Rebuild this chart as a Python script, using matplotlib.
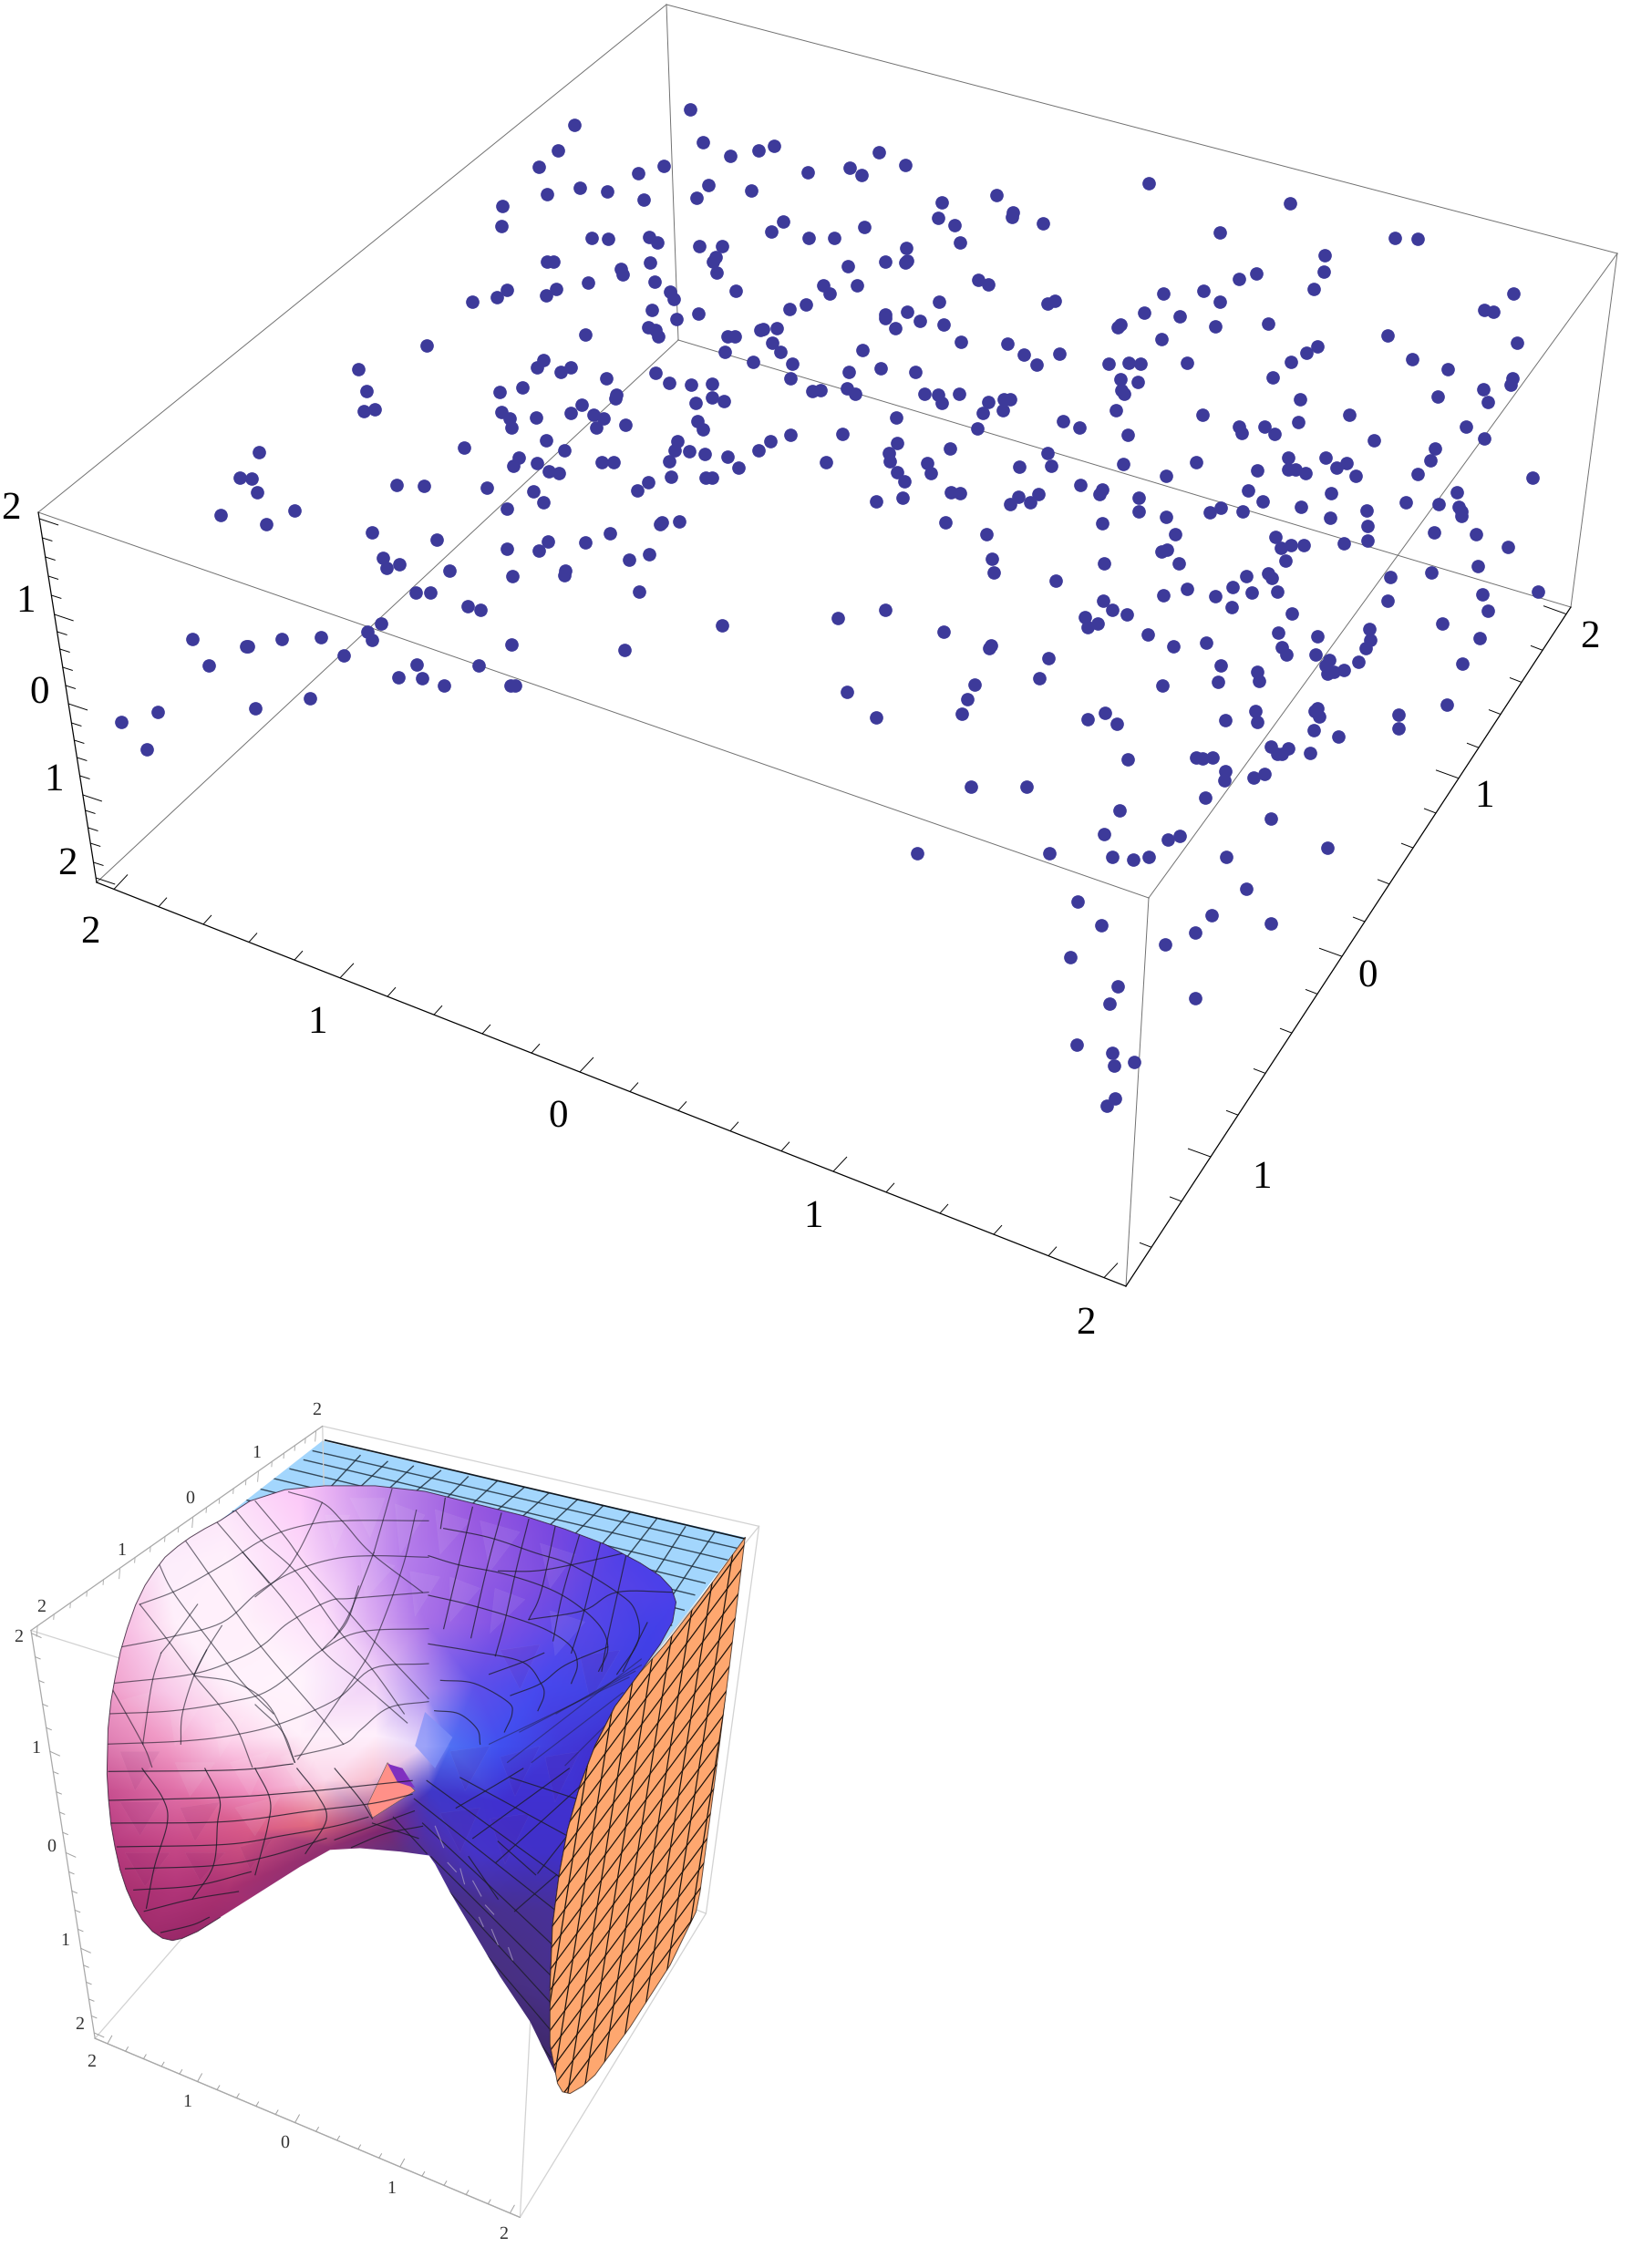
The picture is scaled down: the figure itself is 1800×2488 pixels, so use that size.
import numpy as np
import matplotlib
matplotlib.use("Agg")
import matplotlib.pyplot as plt
from matplotlib.colors import to_rgb
from matplotlib.patches import Polygon
from matplotlib.tri import Triangulation, LinearTriInterpolator

plt.rcParams["text.hinting"] = "no_hinting"
plt.rcParams["text.hinting_factor"] = 1

# read-off crops: left, top, x scale, y scale to reach image pixels
NW = (0, 0, 900 / 1568, 750 / 1568)
NE = (900, 0, 900 / 1568, 750 / 1568)
SW = (0, 750, 900 / 1568, 750 / 1568)
SE = (900, 750, 900 / 1568, 750 / 1568)
LOW = (0, 1520, 860 / 1568, 968 / 1568)
LOW_L = (110, 1580, 1 / 3, 1 / 3)
LOW_R = (470, 1580, 1 / 3, 1 / 3)
LOW_B = (110, 1940, 720 / 1568, 1 / 3)

dots_nw = [(1318,250),(1098,286),(1067,344),(1029,383),(1343,326),(1395,357),(1449,344),(1479,335),(1543,395),(1269,381),
(1220,397),(1108,430),(1160,440),(1046,446),(1230,457),(1331,453),(1354,424),(1436,437),(960,472),(958,518),(1497,509),
(1474,532),(1545,546),(1130,546),(1162,547),(1240,544),(1256,557),(1337,565),(1379,565),(1045,599),(1058,599),(1242,603),
(1367,590),(1362,600),(1370,625),(1187,616),(1190,630),(1123,648),(1251,646),(1406,667),(969,665),(950,682),(903,692),
(1044,678),(1062,663),(1280,668),(1288,685),(1508,709),(1540,699),(1246,710),(1335,720),(1292,731),(1119,767),(1239,750),
(1253,757),(1258,771),(1390,771),(1404,771),(1453,757),(1459,755),(1485,752),(1476,787),(1491,808),(1385,808),(1514,835),
(1439,831),(816,793),(684,846),(1039,826),(1027,842),(1072,853),(1090,843),(1252,855),(1158,868),(1510,868),(1279,879),
(1321,882),(1361,881),(998,889),(955,898),(701,897),(1553,896),(1177,905),(1176,914),(1361,912),(1384,920),(1330,925),
(1112,928),(716,938),(695,943),(958,945),(1091,948),(1135,951),(974,960),(1024,957),(1153,960),(1333,965),(1140,980),
(1196,975),(978,981),(1343,984),(1510,997),(1294,1011),(1044,1010),(1472,1011),(886,1026),(1289,1032),(1079,1032),
(1317,1034),(1449,1033),(1346,1041),(992,1050),(1391,1048),(495,1038),(981,1069),(1027,1062),(1149,1060),(1172,1060),
(1279,1057),(1411,1073),(1048,1081),(1068,1085),(1282,1094),(1348,1095),(1360,1096),(458,1095),(481,1098),(1239,1107),
(492,1129),(757,1113),(810,1115),(930,1119),(1019,1127),(1218,1125),(1039,1152),(969,1166),(563,1171),(422,1181),
(1264,1197),(1298,1196),(1261,1202),(508,1203),(711,1221),(1165,1224),(834,1237),(1047,1241),(1119,1243),(969,1259),
(1029,1263),(1241,1272),(1203,1283),(731,1280),(763,1295),(739,1302),(859,1308),(1081,1308),(1079,1320),(979,1322),
(795,1359),(823,1359),(1221,1357),(894,1391),(918,1398),(1379,1435),(728,1430),(702,1448),(710,1467),(367,1465),
(470,1483),(474,1483),(539,1466),(614,1462),(978,1479),(1194,1491),(656,1504),(399,1526),(797,1524),(914,1527),
(761,1553),(806,1556),(848,1573),(975,1573),(985,1573)]

dots_sw = [(232,88),(302,65),(280,150),(488,57),(592,33)]

dots_ne = [(111,350),(55,385),(79,401),(162,379),(627,421),(337,448),(231,465),(898,467),(368,488),(366,498),(224,500),
(425,512),(256,517),(84,521),(763,534),(27,545),(1097,545),(1141,547),(266,557),(163,569),(964,585),(165,597),(162,603),
(123,601),(52,611),(962,624),(833,628),(800,640),(5,654),(69,655),(18,674),(302,641),(321,653),(942,662),(655,673),
(732,667),(1324,673),(227,691),(433,697),(448,689),(763,691),(1269,710),(1286,714),(618,717),(165,714),(124,722),
(124,730),(687,725),(190,736),(236,745),(573,745),(568,751),(754,749),(855,743),(143,753),(268,785),(652,778),(1083,770),
(358,788),(1331,787),(950,795),(929,809),(80,803),(389,813),(456,812),(413,836),(899,830),(550,835),(588,833),(611,835),
(701,833),(1130,824),(115,845),(1199,846),(54,853),(181,853),(865,865),(574,870),(606,875),(1323,868),(1318,882),(0,895),
(50,891),(575,895),(66,904),(199,904),(225,906),(264,904),(581,904),(1266,893),(1180,909),(916,916),(232,924),(320,923),
(350,916),(362,915),(1276,922),(565,940),(310,948),(349,941),(730,951),(1011,952),(144,958),(464,965),(800,979),(848,979),
(913,968),(1233,978),(495,980),(299,982),(805,994),(868,996),(42,996),(587,998),(1268,1005),(1057,1010),(147,1016),
(248,1028),(1175,1028),(130,1040),(434,1040),(133,1057),(10,1060),(203,1062),(894,1050),(965,1049),(1006,1062),(717,1061),
(1165,1056),(578,1065),(380,1070),(441,1069),(986,1072),(894,1077),(907,1077),(835,1078),(146,1082),(211,1085),(927,1085),
(1022,1092),(661,1092),(1142,1087),(1361,1095),(161,1104),(496,1113),(817,1124),(539,1122),(533,1134),(250,1130),(266,1131),
(417,1134),(378,1140),(975,1131),(1216,1128),(608,1142),(156,1142),(106,1149),(400,1153),(362,1156),(845,1150),(1119,1153),
(1182,1157),(764,1165),(919,1162),(1044,1171),(1219,1162),(1225,1172),(1225,1183),(744,1175),(608,1172),(806,1172),
(661,1185),(974,1187),(239,1197),(539,1200),(1045,1207),(317,1225),(678,1226),(1172,1221),(1252,1225),(869,1231),(1046,1239),
(899,1250),(880,1256),(924,1251),(1000,1247),(662,1260),(651,1264),(1314,1255),(327,1282),(888,1286),(685,1291),(541,1291),
(1257,1299),(331,1312),(1167,1313),(450,1331),(814,1321),(855,1316),(863,1326),(1089,1323),(788,1347),(824,1359),(873,1356),
(700,1351),(655,1365),(755,1367),(1371,1356),(1265,1364),(1084,1378),(540,1377),(557,1398),(585,1409),(785,1392),(124,1399),
(33,1418),(1275,1401),(900,1408),(505,1416),(530,1430),(510,1438),(1188,1431),(236,1448),(875,1450),(625,1455),(949,1460),
(1048,1443),(1050,1467),(1259,1463),(1041,1486),(326,1480),(322,1487),(737,1474),(674,1483),(881,1484),(890,1502),(946,1502),
(435,1510),(972,1513),(965,1526),(1028,1518),(1227,1521),(765,1527),(835,1541),(1000,1537),(968,1545),(980,1540),(419,1555),
(759,1563),(838,1562),(295,1570),(653,1572)]

dots_se = [(51,18),(280,35),(107,77),(270,69),(511,81),(543,67),(566,91),(774,83),(831,63),(834,87),(945,62),(950,56),(953,75),
(1104,71),(1104,102),(1197,48),(942,107),(989,121),(860,144),(893,149),(873,160),(882,162),(936,158),(587,174),(718,170),
(730,172),(749,169),(774,201),(772,222),(828,216),(849,207),(287,236),(394,236),(736,261),(571,291),(860,310),(541,345),
(664,358),(687,350),(968,377),(185,389),(438,388),(558,397),(598,404),(627,397),(775,398),(814,470),(491,500),(748,531),
(537,554),(860,550),(716,571),(658,597),(478,627),(568,695),(716,722),(553,733),(489,827),(558,846),(600,868),(561,877),
(563,951),(547,967)]

# axis tick positions, read along each axis in pixels, every fifth one is long
top_z_ticks = [569,590,611,632,653,674,693,712,732,752,772,793,812,831,851,872,889,908,925,946,963]
top_x_ticks = [125,174,223,273,323,373,425,476,529,583,636,691,744,801,857,914,972,1031,1090,1150,1211]
top_y_ticks = [1263,1296,1328,1358,1388,1417,1445,1472,1497,1524,1550,1575,1600,1622,1646,1669,1692,1718]
top_labels = ["2", "1", "0", "1", "2"]
top_z_label_pos = [(11.5,559),(27.5,661),(43,761),(58.5,857),(73.5,949)]
top_x_label_pos = [(99,1024),(348,1123),(612,1226),(892,1336),(1191,1453)]
top_y_label_pos = [(1384,1293),(1500,1072),(1628,875),(1744,700)]

# lower plot, all in LOW crop coordinates unless stated
low_back_ticks = [75,108,141,174,207,240,270,301,330,357,386,413,439,467,492,517,544,568,590,611,632]
low_z_ticks = [440,482,524,566,608,650,686,722,758,794,830,864,898,932,966,1000,1030,1060,1090,1120,1150]
low_x_ticks = [215,251,287,323,359,395,434,473,512,551,590,632,674,716,758,800,844,888,932,976,1020]
low_back_label_pos = [(83,392),(243,292),(380,200),(513,118),(632,42)]
low_z_label_pos = [(37,445),(72,643),(102,818),(130,985),(158,1135)]
low_x_label_pos = [(182,1200),(374,1272),(570,1345),(782,1425),(1007,1507)]

surface_outline = [(440,240),(500,205),(570,185),(650,178),(750,178),(850,188),(950,210),(1050,232),(1130,255),(1210,282),
(1280,315),(1320,338),(1343,360),(1352,385),(1345,420),(1320,460),(1280,510),(1230,570),(1190,640),(1160,710),(1135,790),(1118,870),
(1105,960),(1100,1070),(1100,1170),(1112,1225),(1060,1130),(1000,1050),(950,975),(900,900),(870,850),(858,835),(800,828),
(720,822),(660,825),(600,855),(520,900),(440,945),(395,970),(365,982),(345,986),(325,982),(305,970),(285,950),(268,925),
(253,895),(240,860),(230,820),(222,780),(217,735),(214,690),(216,610),(222,560),(230,520),(241,472),(255,430),(271,390),(290,355),
(310,328),(330,305),(355,286),(380,270),(410,254)]

wall_outline = [(1490,270),(1460,490),(1430,700),(1400,900),(1392,935),(1340,1030),(1260,1140),(1190,1225),(1165,1245),(1140,1258),
(1125,1255),(1115,1240),(1100,1170),(1100,1070),(1105,960),(1118,870),(1135,790),(1160,710),(1190,640),(1230,570),(1280,510),(1330,460),(1400,380)]

lid_outline = [(645,98),(1490,270),(1300,490),(440,240)]
lid_left = [(650,97),(626,116),(608,132),(580,148),(547,165),(517,183),(487,202),(456,221)]
lid_right = [(1489,272),(1474,289),(1456,310),(1435,332),(1410,351),(1389,372),(1368,399),(1343,426)]
# cross lines of the lid, LOW_R crop
lid_cross = [((130,120),(80,170)),((225,135),(160,195)),((315,155),(250,210)),((400,170),(310,250)),((490,195),(420,260)),
((575,215),(500,290)),((665,235),(590,320)),((750,260),(680,350)),((845,285),(770,400)),((940,305),(850,440)),
((40,100),(-20,150)),((-50,85),(-120,150)),((-135,70),(-210,140)),((-225,50),(-300,130))]

# colours read at spots on the surface
shade_points = [
(450,230,"#fde8fa"),(600,190,"#fcc8f8"),(700,190,"#d8a0f0"),(800,195,"#b880e8"),(950,215,"#9858e0"),(1100,250,"#7a48e0"),
(1250,300,"#5040e8"),(1350,380,"#4a40ea"),(330,320,"#fdeefc"),(450,300,"#fff0fc"),(600,300,"#fcd8fa"),(700,300,"#e0b0f4"),
(800,300,"#b880ec"),(950,310,"#9a60e4"),(1100,330,"#7a4ce0"),(1200,340,"#5a44e6"),(255,430,"#f8c0e4"),(350,420,"#fff0fb"),
(500,420,"#fff0fb"),(650,420,"#fde0fb"),(750,420,"#d8a8f2"),(850,420,"#a870e8"),(1000,420,"#8050e4"),(1150,420,"#5a48e8"),
(1300,440,"#4240e8"),(225,540,"#f0a0cc"),(330,540,"#f8c8e8"),(450,520,"#fff2fc"),(600,520,"#fff4fd"),(750,520,"#f0d0f8"),
(850,540,"#b090f0"),(950,530,"#6050ea"),(1080,530,"#4848ee"),(1230,550,"#4040e0"),(215,630,"#e080b4"),(330,640,"#f098c4"),
(450,630,"#fdd0ea"),(600,620,"#fff0fa"),(750,620,"#fff0fc"),(850,640,"#e0d0fa"),(900,640,"#5070f4"),(1000,640,"#4050f0"),
(1130,640,"#4238d8"),(1190,650,"#4030d0"),(215,720,"#c85090"),(350,720,"#e070a8"),(500,720,"#f090c0"),(650,700,"#fcd8ea"),
(740,700,"#f8c0d0"),(860,720,"#4038c8"),(1000,740,"#4030d0"),(1150,740,"#4030d0"),(225,810,"#b83c80"),(350,810,"#c84a88"),
(500,790,"#d85a88"),(620,780,"#e06a80"),(760,790,"#802870"),(850,800,"#5030a8"),(950,830,"#4634c8"),(1100,830,"#4030c8"),
(250,900,"#a83070"),(350,900,"#b03478"),(450,900,"#a83070"),(660,820,"#903070"),(800,825,"#603080"),(900,900,"#48308c"),
(1000,930,"#483090"),(1100,930,"#483098"),(300,970,"#a02c6c"),(345,990,"#982868"),(1000,1050,"#483080"),(1090,1080,"#483088"),
(1100,1200,"#3e2868"),(200,150,"#fde8fa"),(700,120,"#d8a0f0"),(1000,130,"#9858e0"),(1400,250,"#4a40ea"),(1400,900,"#4030c8"),
(1150,1300,"#3e2868"),(300,1050,"#982868"),(180,600,"#e080b4"),(180,900,"#a83070"),(180,300,"#f8c0e4")]

salmon_facets = [[(775,670),(830,720),(745,768),(735,745)]]
purple_facets = [[(775,672),(805,680),(830,715),(795,705)]]
blue_facets = [[(850,580),(905,625),(870,680),(830,640)]]

# flat looking triangles, LOW coordinates
pale_facets = [
[(700,200),(770,200),(740,270)],[(790,210),(850,230),(800,300)],[(870,220),(940,240),(880,300)],[(960,240),(1040,260),(980,330)],
[(720,300),(790,320),(730,380)],[(820,330),(880,340),(830,410)],[(900,340),(960,360),(900,420)],[(990,360),(1050,380),(980,440)],
[(1080,280),(1150,300),(1100,360)],[(1100,400),(1170,420),(1110,480)],[(650,230),(700,230),(670,290)],[(240,560),(300,545),(280,620)],
[(340,580),(400,570),(350,640)],[(430,600),(490,590),(440,660)],[(470,750),(560,730),(510,800)],[(350,670),(430,670),(380,730)],
[(460,670),(540,650),(500,730)],[(560,660),(640,640),(600,720)]]

dark_facets = [
[(240,650),(320,650),(270,720)],[(240,740),(320,740),(280,800)],[(360,750),(440,740),(390,810)],[(250,830),(340,830),(290,890)],
[(370,830),(450,830),(400,880)],[(480,820),(550,800),(500,860)],[(900,650),(980,640),(930,720)],[(1000,660),(1080,640),(1030,730)],
[(1090,660),(1160,650),(1110,740)],[(880,760),(960,750),(920,830)],[(980,770),(1060,760),(1010,850)],[(1000,470),(1080,460),(1040,540)],
[(1160,480),(1240,470),(1180,560)]]

mesh_left = [
[(130,540),(260,490),(420,400),(530,330),(650,285),(800,265),(1080,265)],
[(70,680),(220,650),(400,600),(520,500),(640,430),(770,390),(900,380),(1080,385)],
[(40,800),(300,770),(450,720),(540,670),(620,600),(750,530),(830,520),(1080,500)],
[(30,900),(240,890),(430,860),(560,820),(730,690),(860,630),(1080,620)],
[(20,1000),(270,990),(440,970),(600,930),(780,850),(900,750),(1080,735)],
[(640,1040),(800,1000),(860,950),(950,880),(1080,860)],
[(130,540),(220,655),(310,775),(390,870),(450,950),(500,1075)],
[(380,265),(470,370),(555,470)],
[(470,370),(600,520),(730,690),(860,800),(1010,930)],
[(510,200),(610,320),(680,415),(820,570),(900,660),(1080,850)],
[(620,170),(730,205),(800,270),(890,370),(1060,500)],
[(40,820),(140,1000),(170,1075)],
[(440,225),(530,330),(650,440),(780,620),(900,760),(1000,900)],
[(730,205),(700,270),(650,370),(600,440),(510,515)],
[(200,700),(170,800),(140,1000)],
[(350,690),(310,770),(270,900),(265,1000)],
[(960,160),(900,370)],
[(1040,230),(1000,400),(940,570),(890,690),(850,760),(780,860),(650,1050)],
[(850,480),(810,600),(730,690)],
[(320,540),(240,650),(200,700)],
[(400,610),(350,690),(310,770)],
[(310,775),(450,800),(560,880),(640,1060)],
[(510,870),(600,960),(640,1060)],
[(900,370),(820,570),(770,650)],
[(280,330),(400,500),(530,680),(700,880),(800,1000)],
[(190,400),(240,500),(360,660),(470,800),(570,900)]]

mesh_right = [
[(50,290),(200,320),(350,370),(470,410),(620,500),(680,560),(690,660),(620,770)],
[(0,380),(100,410),(250,440),(400,490),(500,550),(570,620),(590,690),(560,760)],
[(0,510),(130,540),(300,590),(400,630),(470,680),(490,740),(470,800)],
[(0,670),(150,695),(310,730),(370,800),(380,840),(360,890)],
[(40,790),(150,800),(260,860),(275,900),(250,960)],
[(20,890),(100,900),(160,950),(170,1000)],
[(55,190),(40,290)],
[(145,220),(90,450),(50,620)],
[(240,240),(190,430),(140,650)],
[(330,260),(290,420),(250,600),(220,710)],
[(420,270),(370,500),(330,590)],
[(500,300),(440,510),(410,660)],
[(570,320),(510,570),(470,700)],
[(650,380),(590,650),(570,760)],
[(810,500),(620,500),(510,560),(330,590)],
[(650,370),(470,410),(350,430),(230,430)],
[(380,700),(310,730),(200,770)],
[(590,680),(450,740),(370,800),(270,840)],
[(720,600),(640,760)]]

mesh_pinch = [[(200,1000),(660,780)],[(260,1060),(700,720)],[(300,960),(680,760)],[(420,900),(700,740)],[(340,1060),(640,830)],[(450,1070),(580,940)]]

mesh_bottom = [
[(20,10),(320,5),(460,-15)],
[(20,105),(300,95),(500,75),(640,55),(745,40)],
[(25,180),(300,175),(500,140),(650,115),(745,85)],
[(40,258),(300,250),(440,220),(560,190),(640,160)],
[(60,330),(270,320),(400,290),(540,230)],
[(80,400),(230,385),(360,340)],
[(105,470),(220,430),(330,405)],
[(145,540),(220,515),(260,490)],
[(100,0),(150,100),(160,180),(130,320),(110,460)],
[(250,0),(285,100),(280,180),(270,320),(220,430)],
[(370,0),(405,100),(400,190),(370,350)],
[(470,0),(520,90),(540,170),(490,280)],
[(560,0),(620,100),(650,165)],
[(560,235),(650,190),(750,140)],[(600,260),(680,215),(770,190)],[(650,180),(760,230)],[(700,160),(780,280)],
[(770,180),(1080,580)],[(790,290),(1075,680)],[(810,370),(1075,770)],[(840,480),(1075,860)],[(880,590),(1075,950)],
[(930,710),(1075,1005)],[(750,100),(1090,470)],[(780,40),(1110,370)],[(860,30),(1140,240)],[(980,30),(1160,110)],
[(850,130),(950,50),(1010,0)],[(890,230),(1020,100),(1120,0)],[(945,310),(1145,60)],[(1045,345),(1125,205)],
[(990,470),(1090,350)],[(880,290),(950,430)],[(950,240),(1040,350)]]

# pale scratches on the dark wedge, LOW_B crop
wedge_strokes = [[(800,190),(820,260)],[(830,310),(850,340)],[(890,370),(910,420)],[(905,490),(915,520)],[(935,530),(950,580)],
[(975,590),(985,630)],[(860,330),(870,380)],[(920,450),(940,480)]]

# wall grid, LOW coordinates: where each steep line is at height 600, and where each rung meets x=0 with slope -1.2
wall_steep = [1156,1188,1220,1252,1284,1316,1348,1380,1412,1444,1476]
wall_rungs = [2070,2106,2142,2178,2214,2250,2286,2322,2358,2394,2430,2466,2502,2538,2574,2610]


def to_px(points, crop):
    x0, y0, sx, sy = crop
    pts = np.array(points, dtype=float)
    return np.column_stack([x0 + pts[:, 0] * sx, y0 + pts[:, 1] * sy])


def rounded(p):
    # round off the corners of a hand read curve
    if len(p) < 3:
        return p
    q = np.vstack([2 * p[0] - p[1], p, 2 * p[-1] - p[-2]])
    out = []
    for i in range(1, len(q) - 2):
        for t in np.linspace(0, 1, 9)[:-1]:
            out.append(0.5 * (2 * q[i] + (q[i + 1] - q[i - 1]) * t
                              + (2 * q[i - 1] - 5 * q[i] + 4 * q[i + 1] - q[i + 2]) * t ** 2
                              + (3 * q[i] - q[i - 1] - 3 * q[i + 1] + q[i + 2]) * t ** 3))
    out.append(p[-1])
    return np.array(out)


def along(start, end, values, use_y):
    # other coordinate of tick bases on a straight axis
    k = 1 if use_y else 0
    t = (np.array(values, dtype=float) - start[k]) / (end[k] - start[k])
    return np.column_stack([start[0] + t * (end[0] - start[0]), start[1] + t * (end[1] - start[1])])


def ticks(ax, bases, major_vec, minor_vec, first_major, color, lw):
    for i, b in enumerate(bases):
        v = major_vec if (i - first_major) % 5 == 0 else minor_vec
        ax.plot([b[0], b[0] + v[0]], [b[1], b[1] + v[1]], color=color, lw=lw, solid_capstyle="butt")


def edge(ax, p, q, color, lw):
    ax.plot([p[0], q[0]], [p[1], q[1]], color=color, lw=lw, solid_capstyle="round")


def top_plot(ax):
    dots = np.vstack([to_px(dots_nw, NW), to_px(dots_ne, NE), to_px(dots_sw, SW), to_px(dots_se, SE)])

    L, A, R, F = (42, 562), (731, 5), (1774, 278), (1260, 985)
    L2, A2, R2, F2 = (106, 968), (744, 373), (1723, 666), (1235, 1411)
    for p, q in [(L, A), (A, R), (R, F), (F, L), (A, A2), (F, F2), (R, R2), (L2, A2), (A2, R2)]:
        edge(ax, p, q, "#707070", 0.7)
    for p, q in [(L, L2), (L2, F2), (F2, R2)]:
        edge(ax, p, q, "black", 0.9)

    ticks(ax, along(L, L2, top_z_ticks, True), (21, 7), (11, 3.5), 0, "black", 0.7)
    ticks(ax, along(L2, F2, top_x_ticks, False), (15, -16), (9, -10), 0, "black", 0.7)
    ticks(ax, along(F2, R2, top_y_ticks, False), (-25, -9), (-13, -5), 2, "black", 0.7)

    ax.scatter(dots[:, 0], dots[:, 1], s=112, color="#3d3a9a", linewidths=0, zorder=3)

    for pos in [top_z_label_pos, top_x_label_pos]:
        for (x, y), t in zip(pos, top_labels):
            ax.text(x, y, t, fontsize=31, family="Liberation Serif", ha="center", va="center")
    for (x, y), t in zip(top_y_label_pos, top_labels[1:]):
        ax.text(x, y, t, fontsize=31, family="Liberation Serif", ha="center", va="center")


def draw_surface(ax):
    sx = to_px([(p[0], p[1]) for p in shade_points], LOW)
    rgb = np.array([to_rgb(p[2]) for p in shade_points])
    tri = Triangulation(sx[:, 0], sx[:, 1])
    gx, gy = np.meshgrid(np.arange(100, 800), np.arange(1570, 2320))
    img = np.ones(gx.shape + (3,))
    for c in range(3):
        img[..., c] = np.ma.filled(LinearTriInterpolator(tri, rgb[:, c])(gx, gy), 1.0)
    outline = Polygon(to_px(surface_outline, LOW), closed=True, transform=ax.transData, fc="none", ec="none")
    ax.add_patch(outline)
    im = ax.imshow(np.clip(img, 0, 1), extent=(100, 800, 2320, 1570), aspect="auto", interpolation="bilinear", zorder=2)
    im.set_clip_path(outline)

    for facets, col, a in [(pale_facets, "#ffffff", 0.07), (dark_facets, "#601060", 0.07)]:
        for f in facets:
            g = Polygon(to_px(f, LOW), closed=True, fc=col, ec="#ffffff", lw=0.3, alpha=a, zorder=2.05)
            ax.add_patch(g)
            g.set_clip_path(outline)

    for f in salmon_facets:
        ax.add_patch(Polygon(to_px(f, LOW), closed=True, fc="#ff9088", ec="#555555", lw=0.4, zorder=2.1))
    for f in purple_facets:
        ax.add_patch(Polygon(to_px(f, LOW), closed=True, fc="#8030c0", ec="none", zorder=2.1))
    for f in blue_facets:
        ax.add_patch(Polygon(to_px(f, LOW), closed=True, fc="#8090f8", ec="none", alpha=0.7, zorder=2.1))

    for lines, crop, a in [(mesh_left, LOW_L, 0.62), (mesh_right, LOW_R, 0.75), (mesh_pinch, LOW_R, 0.45), (mesh_bottom, LOW_B, 0.8)]:
        for line in lines:
            p = rounded(to_px(line, crop))
            m, = ax.plot(p[:, 0], p[:, 1], color="#1c1c28", lw=0.85, alpha=a, zorder=2.2)
            m.set_clip_path(outline)

    for line in wedge_strokes:
        p = to_px(line, LOW_B)
        m, = ax.plot(p[:, 0], p[:, 1], color="#b0a4c8", lw=0.8, alpha=0.7, zorder=2.25)
        m.set_clip_path(outline)

    # only the upper and left rim has a dark line
    p = to_px(surface_outline[37:] + surface_outline[:24], LOW)
    ax.plot(p[:, 0], p[:, 1], color="#301830", lw=0.7, alpha=0.8, zorder=2.3)


def draw_lid(ax):
    ax.add_patch(Polygon(to_px(lid_outline, LOW), closed=True, fc="#a3d6fd", ec="none", zorder=1.5))
    clip = Polygon(to_px(lid_outline, LOW), closed=True, transform=ax.transData, fc="none", ec="none")
    ax.add_patch(clip)
    left = to_px(lid_left, LOW)
    right = to_px(lid_right, LOW)
    for a, b in zip(left[1:], right[1:]):
        m, = ax.plot([a[0], b[0]], [a[1], b[1]], color="#20303e", lw=1.0, alpha=0.85, zorder=1.6)
        m.set_clip_path(clip)
    for p, q in lid_cross:
        pp = to_px([p, q], LOW_R)
        d = pp[1] - pp[0]
        m, = ax.plot([pp[0, 0], pp[0, 0] + 4 * d[0]], [pp[0, 1], pp[0, 1] + 4 * d[1]], color="#20303e", lw=1.0, alpha=0.85, zorder=1.6)
        m.set_clip_path(clip)
    edge(ax, left[0], right[0], "#101820", 1.2)


def draw_wall(ax):
    outline = to_px(wall_outline, LOW)
    ax.add_patch(Polygon(outline, closed=True, fc="#fea76f", ec="none", zorder=2.5))
    clip = Polygon(outline, closed=True, transform=ax.transData, fc="none", ec="none")
    ax.add_patch(clip)
    for x in wall_steep:
        p = to_px([(x + 53, 300), (x - 124, 1300)], LOW)
        m, = ax.plot(p[:, 0], p[:, 1], color="#20140c", lw=0.9, zorder=2.6)
        m.set_clip_path(clip)
    for c in wall_rungs:
        p = to_px([(1000, c - 1200), (1600, c - 1920)], LOW)
        m, = ax.plot(p[:, 0], p[:, 1], color="#20140c", lw=0.9, zorder=2.6)
        m.set_clip_path(clip)
    p = to_px(wall_outline + wall_outline[:1], LOW)
    ax.plot(p[:, 0], p[:, 1], color="#201008", lw=0.7, alpha=0.7, zorder=2.7)


def low_plot(ax):
    pick = lambda *pts: to_px(list(pts), LOW)
    L, A, R, F = pick((62,435), (645,72), (1518,250), (1085,720))
    L2, A2, R2, F2 = pick((190,1160), (660,680), (1412,938), (1040,1478))
    for p, q in [(A, R), (L, F), (R, F), (A, A2), (F, F2), (R, R2), (L2, A2), (A2, R2), (L2, F2), (F2, R2)]:
        edge(ax, p, q, "#d2d2d2", 0.9)
    for p, q in [(L, A), (L, L2), (L2, F2)]:
        edge(ax, p, q, "#a8a8a8", 0.9)

    base = to_px([(v, 435 + (v - 62) * (72 - 435) / (645 - 62)) for v in low_back_ticks], LOW)
    ticks(ax, base, (-1, 12), (-0.5, 6), 0, "#b0b0b0", 0.7)
    base = to_px([(62 + (v - 435) * (190 - 62) / (1160 - 435), v) for v in low_z_ticks], LOW)
    ticks(ax, base, (11, 5), (6, 2.5), 0, "#a0a0a0", 0.7)
    base = to_px([(v, 1160 + (v - 190) * (1478 - 1160) / (1040 - 190)) for v in low_x_ticks], LOW)
    ticks(ax, base, (5, -9), (3, -5), 0, "#a0a0a0", 0.7)

    draw_lid(ax)
    draw_surface(ax)
    draw_wall(ax)

    for pos in [low_back_label_pos, low_z_label_pos, low_x_label_pos]:
        for (x, y), t in zip(to_px(pos, LOW), top_labels):
            ax.text(x, y + 1, t, fontsize=14.5, family="Liberation Serif", color="#333333", ha="center", va="center")


fig = plt.figure(figsize=(18, 24.88), dpi=100)
ax = fig.add_axes([0, 0, 1, 1])
top_plot(ax)
low_plot(ax)
ax.set_xlim(0, 1800)
ax.set_ylim(2488, 0)
ax.axis("off")
fig.savefig("out.png", dpi=100)
